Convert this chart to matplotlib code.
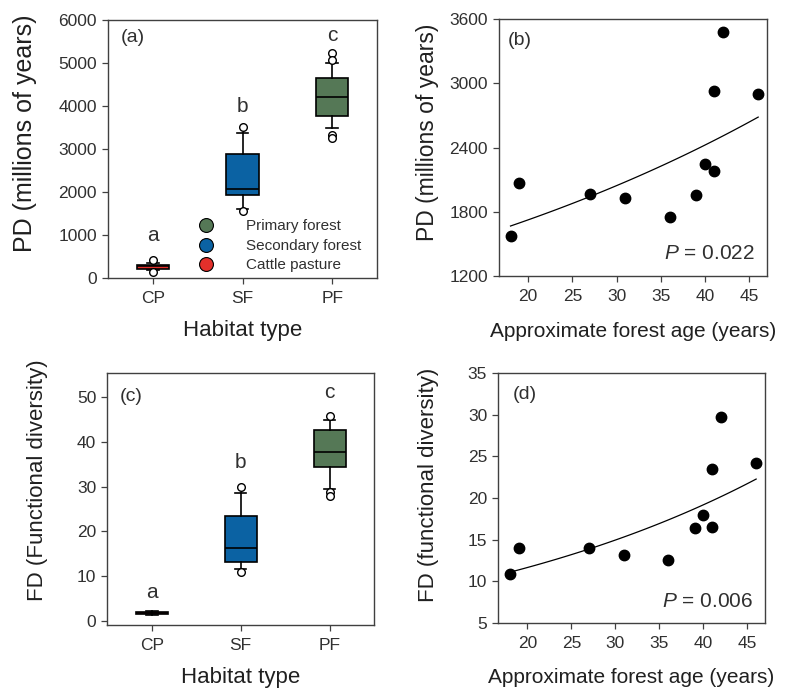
import numpy as np
import matplotlib.pyplot as plt
from matplotlib.lines import Line2D

plt.rcParams['font.family'] = 'Liberation Sans'
plt.rcParams['mathtext.fontset'] = 'custom'
plt.rcParams['mathtext.rm'] = 'Liberation Sans'
plt.rcParams['mathtext.it'] = 'Liberation Sans:italic'

text_color = '#303030'
spine_color = '#404040'

habitats = ['CP', 'SF', 'PF']
habitat_colors = ['#e3302b', '#0b62a3', '#557856']
legend_names = ['Primary forest', 'Secondary forest', 'Cattle pasture']
legend_colors = ['#557856', '#0b62a3', '#e3302b']
group_letters = ['a', 'b', 'c']

# phylogenetic diversity per habitat (box summaries, millions of years)
pd_whislo = [185, 1600, 3500]
pd_q1 = [215, 1940, 3760]
pd_med = [275, 2065, 4200]
pd_q3 = [305, 2890, 4645]
pd_whishi = [345, 3380, 4995]
pd_fliers = [[420, 130], [3510, 1570], [5230, 5070, 3330, 3250]]
pd_letter_y = [850, 3870, 5520]

# functional diversity per habitat
fd_whislo = [1.3, 11.5, 29.4]
fd_q1 = [1.45, 13.1, 34.4]
fd_med = [1.7, 16.2, 37.7]
fd_q3 = [1.95, 23.5, 42.7]
fd_whishi = [2.2, 28.5, 44.9]
fd_fliers = [[], [30.0, 10.8], [45.8, 28.7, 27.8]]
fd_letter_y = [5.1, 34.1, 49.8]

# secondary forest sites
forest_age = [18, 19, 27, 31, 36, 39, 40, 41, 41, 42, 46]
pd_sf = [1574, 2067, 1964, 1932, 1755, 1957, 2244, 2176, 2927, 3475, 2899]
fd_sf = [10.9, 14.0, 14.0, 13.1, 12.6, 16.4, 18.0, 16.5, 23.5, 29.7, 24.2]
p_pd = '0.022'
p_fd = '0.006'


def style_axes(ax):
    for s in ax.spines.values():
        s.set_color(spine_color)
        s.set_linewidth(1.0)
    ax.tick_params(direction='out', length=4, width=0.9, color=spine_color,
                   labelsize=12.5, labelcolor=text_color)
    ax.tick_params(axis='x', pad=5)
    ax.tick_params(axis='y', pad=4)


def box_panel(ax, lo, q1, med, q3, hi, fliers, letter_y):
    stats = []
    for i in range(3):
        stats.append(dict(whislo=lo[i], q1=q1[i], med=med[i], q3=q3[i],
                          whishi=hi[i], fliers=fliers[i]))
    bp = ax.bxp(stats, positions=[1, 2, 3], widths=0.36, capwidths=0.13,
                patch_artist=True,
                boxprops=dict(edgecolor='black', linewidth=1.2),
                medianprops=dict(color='black', linewidth=1.2),
                whiskerprops=dict(color='black', linewidth=1.2),
                capprops=dict(color='black', linewidth=1.2),
                flierprops=dict(marker='o', markerfacecolor='white',
                                markeredgecolor='black', markersize=5.5,
                                markeredgewidth=1.0))
    for patch, c in zip(bp['boxes'], habitat_colors):
        patch.set_facecolor(c)
    for i, (let, y) in enumerate(zip(group_letters, letter_y)):
        ax.text(i + 1, y, let, ha='center', va='baseline', fontsize=15,
                color=text_color)
    ax.set_xlim(0.5, 3.5)
    ax.set_xticks([1, 2, 3])
    ax.set_xticklabels(habitats)
    ax.set_xlabel('Habitat type', fontsize=16, color='#202020', va='center')


def scatter_panel(ax, age, vals, ptext):
    ax.plot(age, vals, 'o', color='black', markersize=7.5, zorder=3)
    # exponential trend: straight line fitted to log values
    b, a = np.polyfit(age, np.log(vals), 1)
    xs = np.linspace(min(age), max(age), 100)
    ax.plot(xs, np.exp(a + b * xs), color='black', linewidth=0.9)
    ax.set_xlim(16.7, 47)
    ax.set_xticks([20, 25, 30, 35, 40, 45])
    ax.set_xlabel('Approximate forest age (years)', fontsize=15,
                  color='#202020', va='center')
    ax.text(0.955, 0.065, '$P$ = ' + ptext, transform=ax.transAxes,
            ha='right', va='baseline', fontsize=15, color=text_color)


fig = plt.figure(figsize=(8.02, 6.93), dpi=100)
ax_a = fig.add_axes([0.1347, 0.5988, 0.3354, 0.3723])
ax_b = fig.add_axes([0.6222, 0.6017, 0.3342, 0.3709])
ax_c = fig.add_axes([0.1338, 0.0981, 0.3325, 0.3632])
ax_d = fig.add_axes([0.6213, 0.1010, 0.3325, 0.3608])

# (a) PD by habitat
box_panel(ax_a, pd_whislo, pd_q1, pd_med, pd_q3, pd_whishi, pd_fliers,
          pd_letter_y)
ax_a.set_ylim(0, 6000)
ax_a.set_yticks(range(0, 6001, 1000))
ax_a.set_ylabel('PD (millions of years)', fontsize=18, color='#202020',
                va='center')
handles = [Line2D([], [], linestyle='none', marker='o', markersize=10,
                  markerfacecolor=c, markeredgecolor='black',
                  markeredgewidth=0.8) for c in legend_colors]
ax_a.legend(handles, legend_names, loc='upper left',
            bbox_to_anchor=(0.336, 0.227), frameon=False, fontsize=11,
            handlelength=1.0, handletextpad=2.1, labelspacing=0.36,
            borderpad=0, borderaxespad=0, labelcolor=text_color)

# (b) PD vs forest age
scatter_panel(ax_b, forest_age, pd_sf, p_pd)
ax_b.set_ylim(1200, 3600)
ax_b.set_yticks(range(1200, 3601, 600))
ax_b.set_ylabel('PD (millions of years)', fontsize=16.5, color='#202020',
                va='center')

# (c) FD by habitat
box_panel(ax_c, fd_whislo, fd_q1, fd_med, fd_q3, fd_whishi, fd_fliers,
          fd_letter_y)
ax_c.set_ylim(-1, 55.4)
ax_c.set_yticks(range(0, 51, 10))
ax_c.set_ylabel('FD (Functional diversity)', fontsize=16, color='#202020',
                va='center')

# (d) FD vs forest age
scatter_panel(ax_d, forest_age, fd_sf, p_fd)
ax_d.set_ylim(5, 35)
ax_d.set_yticks(range(5, 36, 5))
ax_d.set_ylabel('FD (functional diversity)', fontsize=16, color='#202020',
                va='center')

for ax in (ax_a, ax_b, ax_c, ax_d):
    style_axes(ax)

ax_a.yaxis.set_label_coords(-0.309, 0.56)
ax_b.yaxis.set_label_coords(-0.265, 0.56)
ax_c.yaxis.set_label_coords(-0.26, 0.576)
ax_d.yaxis.set_label_coords(-0.26, 0.553)
ax_a.xaxis.set_label_coords(0.5, -0.204)
ax_b.xaxis.set_label_coords(0.5, -0.214)
ax_c.xaxis.set_label_coords(0.5, -0.21)
ax_d.xaxis.set_label_coords(0.5, -0.219)

panel_tags = [(ax_a, '(a)', 0.047, 0.964), (ax_b, '(b)', 0.031, 0.95),
              (ax_c, '(c)', 0.045, 0.94), (ax_d, '(d)', 0.053, 0.946)]
for ax, tag, x, y in panel_tags:
    ax.text(x, y, tag, transform=ax.transAxes, ha='left', va='top',
            fontsize=14, color=text_color)

fig.savefig('out.png', dpi=100)
